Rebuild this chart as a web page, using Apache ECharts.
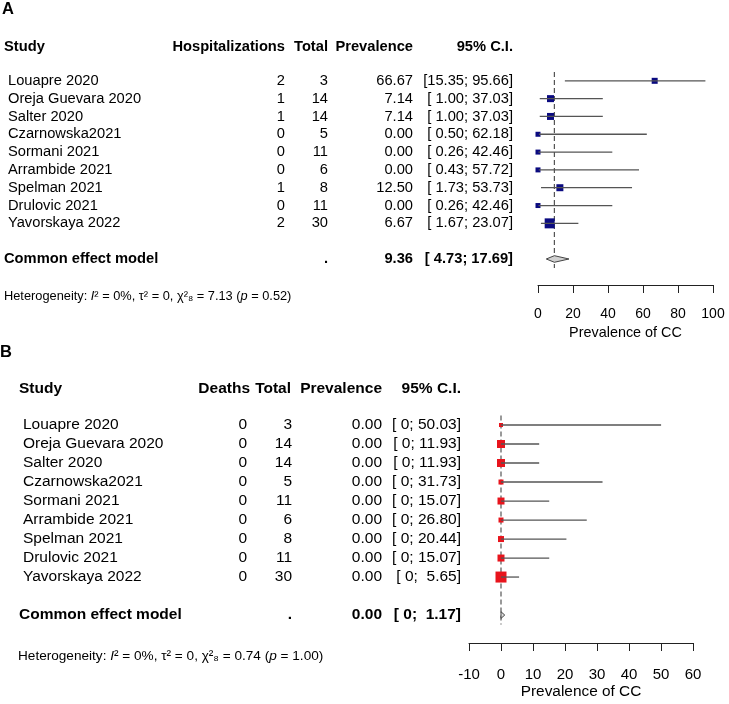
<!DOCTYPE html>
<html><head><meta charset="utf-8">
<script src="https://cdn.jsdelivr.net/npm/echarts@6/dist/echarts.min.js"></script>
<style>html,body{margin:0;padding:0;background:#fff}#c{width:729px;height:704px}</style>
</head><body><div id="c"></div>
<script>
// ---------- data ----------
const studies = ['Louapre 2020','Oreja Guevara 2020','Salter 2020','Czarnowska2021','Sormani 2021','Arrambide 2021','Spelman 2021','Drulovic 2021','Yavorskaya 2022'];

const hospEvents = [2, 1, 1, 0, 0, 0, 1, 0, 2];
const hospTotal  = [3, 14, 14, 5, 11, 6, 8, 11, 30];
const hospPrev   = [66.67, 7.14, 7.14, 0.00, 0.00, 0.00, 12.50, 0.00, 6.67];
const hospLower  = [15.35, 1.00, 1.00, 0.50, 0.26, 0.43, 1.73, 0.26, 1.67];
const hospUpper  = [95.66, 37.03, 37.03, 62.18, 42.46, 57.72, 53.73, 42.46, 23.07];
const hospWeight = [3.6, 4.9, 4.9, 2.5, 2.5, 2.5, 4.9, 2.5, 10];
const hospCommon = [9.36, 4.73, 17.69];   // estimate, lower, upper
const hospTicks  = [0, 20, 40, 60, 80, 100];
const hospHet    = ['0%', '0', '7.13', '0.52'];

const deathEvents = [0, 0, 0, 0, 0, 0, 0, 0, 0];
const deathTotal  = [3, 14, 14, 5, 11, 6, 8, 11, 30];
const deathPrev   = [0, 0, 0, 0, 0, 0, 0, 0, 0];
const deathLower  = [0, 0, 0, 0, 0, 0, 0, 0, 0];
const deathUpper  = [50.03, 11.93, 11.93, 31.73, 15.07, 26.80, 20.44, 15.07, 5.65];
const deathWeight = [1.6, 6.4, 6.4, 2.5, 4.9, 2.5, 3.6, 4.9, 12.1];
const deathCommon = [0, 0, 1.17];
const deathTicks  = [-10, 0, 10, 20, 30, 40, 50, 60];
const deathHet    = ['0%', '0', '0.74', '1.00'];

// ---------- helpers ----------
const FF = '"Liberation Sans", Arial, sans-serif';
const nRows = studies.length;
const sumRow = nRows + 1;

function forestSeries(gi, est, lo, hi, w, color, maxSize) {
  const wmax = Math.max(...w);
  return {
    type: 'custom', xAxisIndex: gi, yAxisIndex: gi, z: 3,
    data: est.map((e, i) => [e, i, lo[i], hi[i], w[i]]),
    encode: { x: [0, 2, 3], y: 1 },
    renderItem(params, api) {
      const r = api.value(1);
      const p = api.coord([api.value(0), r]);
      const a = api.coord([api.value(2), r]);
      const b = api.coord([api.value(3), r]);
      const s = maxSize * Math.sqrt(api.value(4) / wmax);
      return { type: 'group', children: [
        { type: 'rect', shape: { x: p[0] - s / 2, y: p[1] - s / 2, width: s, height: s }, style: { fill: color } },
        { type: 'line', shape: { x1: a[0], y1: a[1], x2: b[0], y2: b[1] }, style: { stroke: '#555', lineWidth: 1.3 } }
      ]};
    }
  };
}
function diamondSeries(gi, c, fill) {
  return {
    type: 'custom', xAxisIndex: gi, yAxisIndex: gi, z: 3,
    data: [[c[0], sumRow, c[1], c[2]]],
    encode: { x: [0, 2, 3], y: 1 },
    renderItem(params, api) {
      const r = api.value(1);
      const p = api.coord([api.value(0), r]);
      const a = api.coord([api.value(2), r]);
      const b = api.coord([api.value(3), r]);
      const h = 3.3;
      return { type: 'polygon', shape: { points: [[a[0], a[1]], [p[0], p[1] - h], [b[0], b[1]], [p[0], p[1] + h]] },
        style: { fill: fill, stroke: '#444', lineWidth: 1 } };
    }
  };
}
function refLine(gi, x) {
  return { type: 'line', xAxisIndex: gi, yAxisIndex: gi, z: 2, symbol: 'none', silent: true,
    data: [[x, -0.5], [x, sumRow + 0.5]],
    lineStyle: { color: '#555', width: 1.2, type: [5, 3] } };
}
function xAx(gi, ticks, fs, margin, gap) {
  return { gridIndex: gi, type: 'value', min: ticks[0], max: ticks[ticks.length - 1], interval: ticks[1] - ticks[0],
    position: 'bottom',
    axisLine: { show: true, onZero: false, lineStyle: { color: '#222', width: 1 } },
    axisTick: { show: true, length: 8, lineStyle: { color: '#222', width: 1 } },
    axisLabel: { fontSize: fs, color: '#000', fontFamily: FF, margin: margin },
    splitLine: { show: false },
    name: 'Prevalence of CC', nameLocation: 'middle', nameGap: gap,
    nameTextStyle: { fontSize: fs + 0.4, color: '#000', fontFamily: FF } };
}

const chart = echarts.init(document.getElementById('c'));
chart.setOption({
  animation: false,
  backgroundColor: '#fff',
  grid: [
    { left: 538, width: 175, top: 63, height: 222 },
    { left: 469, width: 224, top: 406, height: 237 }
  ],
  xAxis: [xAx(0, hospTicks, 14, 22, 41), xAx(1, deathTicks, 15, 24, 41)],
  yAxis: [
    { gridIndex: 0, type: 'value', min: -1, max: 11.46, inverse: true, show: false },
    { gridIndex: 1, type: 'value', min: -1, max: 11.47, inverse: true, show: false }
  ],
  series: [
    refLine(0, hospCommon[0]),
    forestSeries(0, hospPrev, hospLower, hospUpper, hospWeight, '#0a0a80', 10),
    diamondSeries(0, hospCommon, '#d0d0d0'),
    refLine(1, deathCommon[0]),
    forestSeries(1, deathPrev, deathLower, deathUpper, deathWeight, '#e8141c', 11),
    diamondSeries(1, deathCommon, '#e0e0e0')
  ]
});

// ---------- text columns ----------
function pad(s, n) { while (s.length < n) s = ' ' + s; return s; }
function fmtLo(v, zeroPlain) { return (zeroPlain && v === 0) ? '0' : v.toFixed(2); }
function ciText(lo, hi, zeroPlain) {
  return '[' + pad(fmtLo(lo, zeroPlain), zeroPlain ? 2 : 5) + '; ' + pad(hi.toFixed(2), 5) + ']';
}
function T(x, y, s, fs, opt) {
  opt = opt || {};
  return { type: 'text', x: x, y: y, silent: true, z: 10,
    style: Object.assign({ text: s, fontFamily: FF, fontSize: fs, fill: '#000',
      align: opt.align || 'left', verticalAlign: 'middle', fontWeight: opt.bold ? 'bold' : 'normal' }, opt.rich ? { rich: opt.rich } : {}) };
}
const rowY = (gi, r) => chart.convertToPixel({ gridIndex: gi }, [0, r])[1];

function panel(gi, cfg) {
  const g = [];
  const fs = cfg.fs;
  g.push(T(cfg.letterX, cfg.letterY, cfg.letter, 16.5, { bold: true }));
  const hy = cfg.headerY;
  g.push(T(cfg.studyX, hy, 'Study', fs, { bold: true }));
  g.push(T(cfg.evHX, hy, cfg.evName, fs, { bold: true, align: 'right' }));
  g.push(T(cfg.totHX, hy, 'Total', fs, { bold: true, align: 'right' }));
  g.push(T(cfg.prevX, hy, 'Prevalence', fs, { bold: true, align: 'right' }));
  g.push(T(cfg.ciX, hy, '95% C.I.', fs, { bold: true, align: 'right' }));
  for (let i = 0; i < nRows; i++) {
    const y = rowY(gi, i);
    g.push(T(cfg.nameX, y, studies[i], fs));
    g.push(T(cfg.evX, y, String(cfg.ev[i]), fs, { align: 'right' }));
    g.push(T(cfg.totX, y, String(cfg.tot[i]), fs, { align: 'right' }));
    g.push(T(cfg.prevX, y, cfg.prev[i].toFixed(2), fs, { align: 'right' }));
    g.push(T(cfg.ciX, y, ciText(cfg.lo[i], cfg.hi[i], cfg.zeroPlain), fs, { align: 'right' }));
  }
  const sy = rowY(gi, sumRow);
  g.push(T(cfg.studyX, sy, 'Common effect model', fs, { bold: true }));
  g.push(T(cfg.totX, sy, '.', fs, { bold: true, align: 'right' }));
  g.push(T(cfg.prevX, sy, cfg.common[0].toFixed(2), fs, { bold: true, align: 'right' }));
  g.push(T(cfg.ciX, sy, ciText(cfg.common[1], cfg.common[2], cfg.zeroPlain), fs, { bold: true, align: 'right' }));
  const h = cfg.het;
  g.push(T(cfg.hetX, cfg.hetY,
    'Heterogeneity: {i|I}\u00b2 = ' + h[0] + ', \u03c4\u00b2 = ' + h[1] + ', \u03c7\u00b2\u2088 = ' + h[2] + ' ({i|p} = ' + h[3] + ')',
    cfg.hetFs, { rich: { i: { fontStyle: 'italic', fontFamily: FF, fontSize: cfg.hetFs, fill: '#000' } } }));
  return g;
}

const graphics = [].concat(
  panel(0, { letter: 'A', letterX: 2, letterY: 9, fs: 14.7, headerY: 46.5, studyX: 4, nameX: 8,
    evName: 'Hospitalizations', evHX: 285, evX: 285, totHX: 328, totX: 328, prevX: 413, ciX: 513,
    ev: hospEvents, tot: hospTotal, prev: hospPrev, lo: hospLower, hi: hospUpper, common: hospCommon,
    zeroPlain: false, het: hospHet, hetX: 4, hetY: 296, hetFs: 12.8 }),
  panel(1, { letter: 'B', letterX: 0, letterY: 352, fs: 15.5, headerY: 388.5, studyX: 19, nameX: 23,
    evName: 'Deaths', evHX: 250, evX: 247, totHX: 291, totX: 292, prevX: 382, ciX: 461,
    ev: deathEvents, tot: deathTotal, prev: deathPrev, lo: deathLower, hi: deathUpper, common: deathCommon,
    zeroPlain: true, het: deathHet, hetX: 18, hetY: 656, hetFs: 13.6 })
);
chart.setOption({ graphic: graphics });
</script>
</body></html>
